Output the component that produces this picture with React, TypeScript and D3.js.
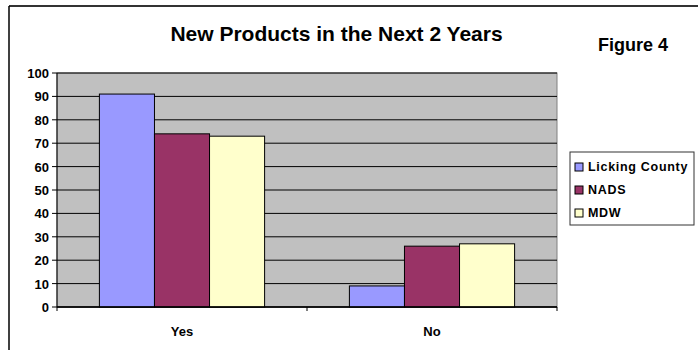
import React from "react";
import * as d3 from "d3";

const categories = ["Yes", "No"];
const seriesNames = ["Licking County", "NADS", "MDW"];
const licking = [91, 9];
const nads = [74, 26];
const mdw = [73, 27];
const yTicks = [0, 10, 20, 30, 40, 50, 60, 70, 80, 90, 100];
const colors = ["#9999FF", "#993366", "#FFFFCC"];

export default function App() {
  const W = 698, H = 350;
  const left = 57, right = 557, top = 73, bottom = 307;
  const series = [licking, nads, mdw];
  const x0 = d3.scaleBand().domain(categories).range([left, right]).paddingInner(0).paddingOuter(0);
  const x1 = d3.scaleBand().domain(seriesNames).range([0, x0.bandwidth()]).paddingOuter(0.77).paddingInner(0);
  const y = d3.scaleLinear().domain([0, 100]).range([bottom, top]);
  const font = "Arial, 'Liberation Sans', sans-serif";
  return (
    <svg width={W} height={H} style={{ position: "absolute", left: 0, top: 0 }} fontFamily={font}>
      <rect x={0} y={0} width={W} height={H} fill="#fff" />
      <line x1={9} y1={6} x2={W} y2={6} stroke="#333" strokeWidth={2} />
      <line x1={9} y1={6} x2={9} y2={H} stroke="#000" strokeWidth={1.5} />
      <text x={336.5} y={41} textAnchor="middle" fontSize={21} fontWeight="bold">New Products in the Next 2 Years</text>
      <text x={633} y={51} textAnchor="middle" fontSize={18} fontWeight="bold">Figure 4</text>
      <rect x={left} y={top} width={right - left} height={bottom - top} fill="#C0C0C0" stroke="#808080" strokeWidth={1} />
      {yTicks.map((t) => (
        <g key={t}>
          <line x1={left} x2={right} y1={y(t)} y2={y(t)} stroke="#000" strokeWidth={1} />
          <line x1={left - 5} x2={left} y1={y(t)} y2={y(t)} stroke="#000" />
          <text x={49} y={y(t) + 5} textAnchor="end" fontSize={13} fontWeight="bold">{t}</text>
        </g>
      ))}
      {categories.map((c, ci) =>
        series.map((s, si) => (
          <rect
            key={c + si}
            x={(x0(c) as number) + (x1(seriesNames[si]) as number)}
            y={y(s[ci])}
            width={x1.bandwidth()}
            height={y(0) - y(s[ci])}
            fill={colors[si]}
            stroke="#000"
            strokeWidth={1}
          />
        ))
      )}
      <line x1={left} x2={left} y1={top} y2={bottom} stroke="#000" />
      <line x1={left} x2={right} y1={bottom} y2={bottom} stroke="#000" strokeWidth={1.5} />
      {[left, left + x0.bandwidth(), right].map((xv, i) => (
        <line key={i} x1={xv} x2={xv} y1={bottom} y2={bottom + 4} stroke="#000" />
      ))}
      {categories.map((c) => (
        <text key={c} x={(x0(c) as number) + x0.bandwidth() / 2} y={336} textAnchor="middle" fontSize={13} fontWeight="bold">{c}</text>
      ))}
      <rect x={570} y={152} width={124} height={73} fill="#fff" stroke="#333" strokeWidth={1} />
      {seriesNames.map((n, i) => (
        <g key={n}>
          <rect x={575} y={163 + i * 23} width={8} height={8} fill={colors[i]} stroke="#000" strokeWidth={1} />
          <text x={588} y={171 + i * 23} fontSize={12.5} letterSpacing={0.7} fontWeight="bold">{n}</text>
        </g>
      ))}
    </svg>
  );
}
